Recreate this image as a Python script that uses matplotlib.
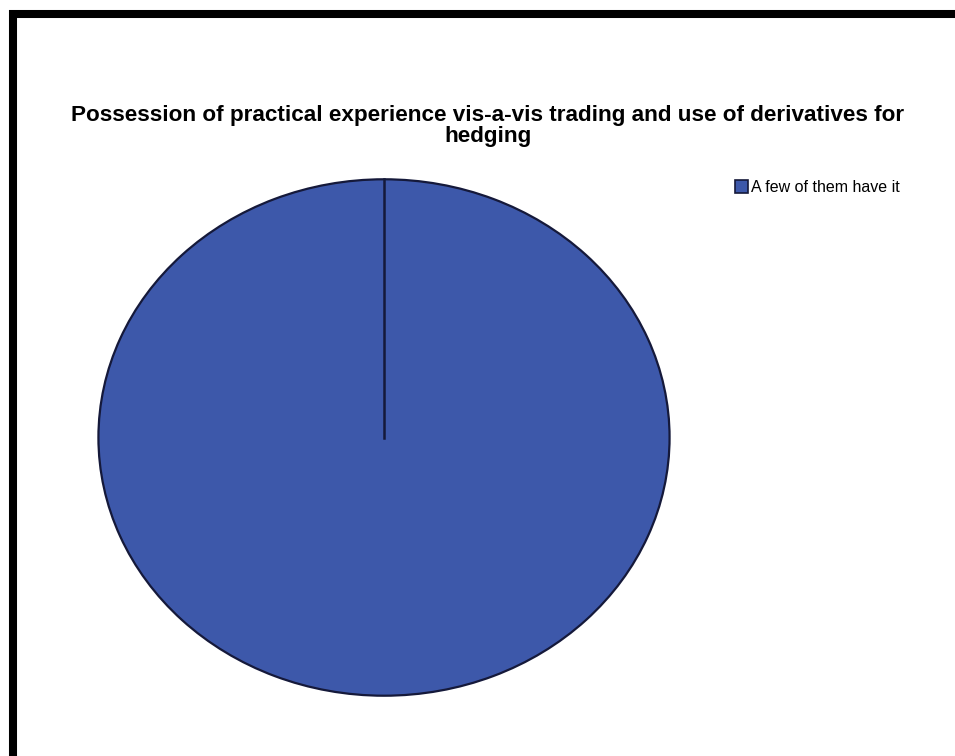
import matplotlib
matplotlib.use("Agg")
from matplotlib import pyplot as plt
from matplotlib.patches import Rectangle
from matplotlib.lines import Line2D

categories = ["A few of them have it"]
counts = [100]
colors = ["#3D58AA"]
title = "Possession of practical experience vis-a-vis trading and use of derivatives for\nhedging"

plt.rcParams["font.family"] = ["Liberation Sans", "DejaVu Sans"]

W, H = 955, 756
fig = plt.figure(figsize=(W / 100, H / 100), dpi=100)
fig.patch.set_facecolor("white")

# pie area (stretched ellipse, like the exported chart)
ax = fig.add_axes([97 / W, (H - 697) / H, (671 - 97) / W, (697 - 178) / H])
edge = "#15193a"
wedges, _ = ax.pie(counts, colors=colors, startangle=90, counterclock=False, radius=1,
                   wedgeprops=dict(edgecolor=edge, linewidth=1.6))
# a single full slice has no radial edge, so draw the seam at the start angle
ax.plot([0, 0], [0, 1], color=edge, linewidth=1.8)
ax.set_aspect("auto")
ax.set_xlim(-1.005, 1.005)
ax.set_ylim(-1.005, 1.005)
ax.axis("off")

fig.text(488 / W, 1 - 126 / H, title, ha="center", va="center",
         fontsize=16.2, fontweight="bold", linespacing=1.0)

# legend
fig.patches.append(Rectangle((735 / W, 1 - 193 / H), 13 / W, 13 / H,
                             transform=fig.transFigure, facecolor=colors[0],
                             edgecolor=edge, linewidth=1.2))
fig.text(751 / W, 1 - 187 / H, categories[0], ha="left", va="center", fontsize=11.5)

# frame lines along top and left edge
fig.add_artist(Line2D([9 / W, 1], [1 - 14 / H, 1 - 14 / H], color="black",
                      linewidth=5.8, transform=fig.transFigure, solid_capstyle="butt"))
fig.add_artist(Line2D([13 / W, 13 / W], [0, 1 - 10 / H], color="black",
                      linewidth=5.8, transform=fig.transFigure, solid_capstyle="butt"))

fig.savefig("out.png", dpi=100)
